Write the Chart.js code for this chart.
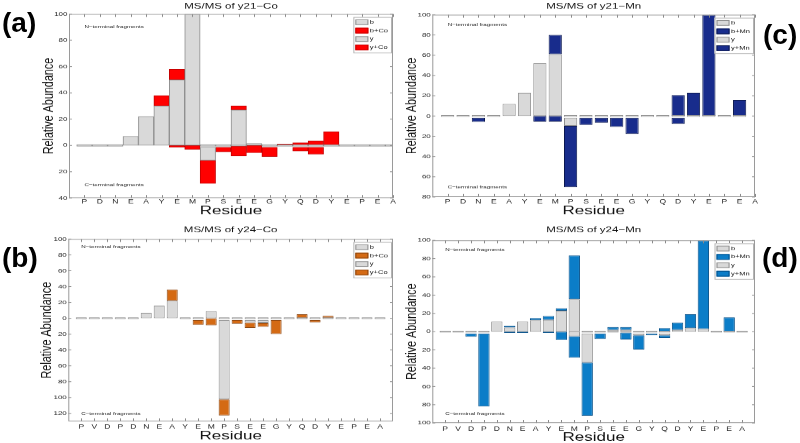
<!DOCTYPE html>
<html>
<head>
<meta charset="utf-8">
<script src="https://cdn.jsdelivr.net/npm/chart.js@4.4.0/dist/chart.umd.min.js"></script>
<style>
  body { margin: 0; background: #fff; }
  #wrap { position: relative; width: 800px; height: 443px; overflow: hidden; font-family: "Liberation Sans", Arial, sans-serif; }
  canvas { position: absolute; }
  .tag { position: absolute; font-weight: bold; font-size: 28px; line-height: 28px; color: #000; }
</style>
</head>
<body>
<div id="wrap">
  <canvas id="cA" width="400" height="306" style="left:0;top:0;width:400px;height:220px"></canvas>
  <canvas id="cC" width="400" height="306" style="left:400px;top:0;width:400px;height:220px"></canvas>
  <canvas id="cB" width="400" height="310" style="left:0;top:220px;width:400px;height:223px"></canvas>
  <canvas id="cD" width="400" height="310" style="left:400px;top:220px;width:400px;height:223px"></canvas>
  <div class="tag" style="left:2px;top:9px">(a)</div>
  <div class="tag" style="left:763px;top:21px">(c)</div>
  <div class="tag" style="left:2px;top:244px">(b)</div>
  <div class="tag" style="left:762px;top:244px">(d)</div>
</div>
<script>
const residues21 = ['P', 'D', 'N', 'E', 'A', 'Y', 'E', 'M', 'P', 'S', 'E', 'E', 'G', 'Y', 'Q', 'D', 'Y', 'E', 'P', 'E', 'A'];
const residues24 = ['P', 'V', 'D', 'P', 'D', 'N', 'E', 'A', 'Y', 'E', 'M', 'P', 'S', 'E', 'E', 'G', 'Y', 'Q', 'D', 'Y', 'E', 'P', 'E', 'A'];

// (a) MS/MS of y21-Co  (y values are abundances of C-terminal fragments, drawn downward)
const bCo21    = [0, 0, 0, 7, 22, 30, 50, 100, 0, 0, 27, 1.5, 0, 0, 0, 0, 0, 0, 0, 0, 0];
const bIonCo21 = [null, null, null, null, null, 8, 8, null, null, null, 3, null, null, 1, 2, 3.5, 10.5, null, null, null, null];
const yCo21    = [null, null, null, null, null, null, null, null, 10, null, 0.5, null, null, null, null, null, null, null, null, null, null];
const yIonCo21 = [null, null, null, null, null, null, 1.3, 3, 17.6, 3.5, 7.5, 5.6, 7, null, 3, 5.3, null, null, null, null, null];

// (c) MS/MS of y21-Mn
const bMn21    = [0, 0, 0, 0, 12, 23, 52, 61, 0, 0, 0, 0, 0, 0, 0, 0, 0, 0, 0, 0, null];
const bIonMn21 = [null, null, null, null, null, null, null, 19, null, null, null, null, null, null, null, 20.7, 23, 100, null, 15.8, null];
const yMn21    = [null, null, null, null, null, null, null, null, 8, null, null, null, null, null, null, null, null, null, null, null, null];
const yIonMn21 = [null, null, 4, null, null, null, 5.5, 5.5, 60.5, 7, 5, 9, 16, null, null, 6, null, null, null, null, null];

// (b) MS/MS of y24-Co
const bCo24    = [0, 0, 0, 0, 0, 7, 16, 22, 0, 0, 9, 0, 0, 0, 0, 0, 0, 0, 0, 0, 0, 0, 0, 0];
const bIonCo24 = [null, null, null, null, null, null, null, 14.5, null, null, null, null, null, null, null, null, null, 5, null, 3, null, null, null, null];
const yCo24    = [null, null, null, null, null, null, null, null, null, null, null, 100, null, 3, 3.5, null, null, null, null, null, null, null, null, null];
const yIonCo24 = [null, null, null, null, null, null, null, null, null, 6, 9, 20.5, 4.5, 7, 5, 17.5, null, null, 3, null, null, null, null, null];

// (d) MS/MS of y24-Mn
const bMn24    = [0, 0, 0, 0, 11, 4.5, 11, 12.5, 13, 23, 35.5, 0, 0, 2, 2, 0, 0, 0, 2, 4, 3, 0, 0, 0];
const bIonMn24 = [null, null, null, null, null, 2, null, 2.5, 4, 2.5, 48, null, null, 3, 3, null, null, 4, 8, 15, 97, null, 15.7, null];
const yMn24    = [null, null, null, null, null, null, null, null, null, null, 5, 32, null, 1, 1, 2, null, 2, null, null, null, null, null, null];
const yIonMn24 = [null, null, 3.5, 80, null, 1.5, 1.5, null, 1.5, 9, 23.5, 58, 6, null, 7.5, 15.5, 2, 3, null, null, null, null, null, null];

const rangeA = [-40, 100];
const rangeC = [-80, 100];
const rangeB = [-130, 100];
const rangeD = [-100, 100];

Chart.defaults.font.family = '"Liberation Sans", Arial, sans-serif';

const GRAY = '#d9d9d9';
const GRAY_EDGE = '#8e8e8e';
const FONT = '"Liberation Sans", Arial, sans-serif';

// box, inward ticks, fragment notes and legend, drawn in the plot area
const panelDeco = {
  id: 'panelDeco',
  afterDraw(chart, args, o) {
    const { ctx, chartArea: a, scales: { x, y } } = chart;
    const s = o.squash;
    ctx.save();
    ctx.strokeStyle = '#8a8a8a';
    ctx.lineWidth = 1;
    ctx.beginPath();
    x.ticks.forEach((t, i) => {
      if (!chart.data.labels[t.value]) return;
      const px = Math.round(x.getPixelForTick(i)) + 0.5;
      ctx.moveTo(px, a.bottom); ctx.lineTo(px, a.bottom - 3 / s);
      ctx.moveTo(px, a.top); ctx.lineTo(px, a.top + 3 / s);
    });
    y.ticks.forEach((t, i) => {
      const py = y.getPixelForTick(i);
      ctx.moveTo(a.left, py); ctx.lineTo(a.left + 3, py);
      ctx.moveTo(a.right, py); ctx.lineTo(a.right - 3, py);
    });
    ctx.stroke();
    ctx.strokeStyle = '#9a9a9a';
    ctx.strokeRect(a.left + 0.5, a.top + 0.5, a.right - a.left - 1, a.bottom - a.top - 1);

    ctx.fillStyle = '#222';
    ctx.font = '6.2px ' + FONT;
    ctx.textAlign = 'left';
    ctx.textBaseline = 'middle';
    const nx = x.getPixelForValue(1);
    ctx.fillText('N\u2212terminal fragments', nx, y.getPixelForValue(y.max - 10));
    ctx.fillText('C\u2212terminal fragments', nx, y.getPixelForValue(y.min + 10));

    const sets = chart.data.datasets;
    ctx.font = '7.5px ' + FONT;
    const tw = Math.max(...sets.map(d => ctx.measureText(d.label).width));
    const rowH = 8.4 / s, swW = 13, swH = 5.6 / s;
    const w = 2 + swW + 1.5 + tw + 3, h = rowH * sets.length + 2 / s;
    const bx = a.right - 2 - w, by = a.top + 3 / s;
    ctx.fillStyle = '#fff';
    ctx.fillRect(bx, by, w, h);
    ctx.strokeStyle = '#b4b4b4';
    ctx.strokeRect(bx + 0.5, by + 0.5, w, h);
    sets.forEach((d, i) => {
      const cy = by + 1 / s + rowH * (i + 0.5);
      ctx.fillStyle = d.backgroundColor;
      ctx.fillRect(bx + 2, cy - swH / 2, swW, swH);
      ctx.strokeStyle = d.borderColor;
      ctx.strokeRect(bx + 2.5, cy - swH / 2 + 0.5, swW - 1, swH - 1);
      ctx.fillStyle = '#111';
      ctx.fillText(d.label, bx + 2 + swW + 1.5, cy);
    });
    ctx.restore();
  }
};

function makePanel(id, p) {
  const canvas = document.getElementById(id);
  const H = canvas.height;
  const s = parseFloat(canvas.style.height) / H;   // the figure is squeezed vertically
  const g = p.geo;
  const trail = p.seq.length === 24;
  const labels = ['', ...p.seq];
  if (trail) labels.push('');
  const pad = arr => { const out = [null, ...arr]; if (trail) out.push(null); return out; };
  const down = arr => arr.map(v => v == null ? null : -v);

  new Chart(canvas, {
    type: 'bar',
    data: {
      labels,
      datasets: [
        { label: 'b', data: pad(p.b), backgroundColor: GRAY, borderColor: GRAY_EDGE, minBarLength: 2.5 },
        { label: 'b+' + p.ion, data: pad(p.bIon), backgroundColor: p.color, borderColor: p.edge },
        { label: 'y', data: down(pad(p.y)), backgroundColor: GRAY, borderColor: GRAY_EDGE },
        { label: 'y+' + p.ion, data: down(pad(p.yIon)), backgroundColor: p.color, borderColor: p.edge }
      ]
    },
    options: {
      responsive: false,
      animation: false,
      devicePixelRatio: 1,
      datasets: {
        bar: { borderWidth: 1, borderSkipped: false, categoryPercentage: 1, barPercentage: p.barPct }
      },
      layout: { padding: { left: 0, right: 400 - g.right, top: 0, bottom: 0 } },
      scales: {
        x: {
          stacked: true,
          offset: false,
          grid: { display: false, drawTicks: false },
          border: { display: false },
          ticks: { autoSkip: false, maxRotation: 0, padding: (g.tickY - g.bottom) / s - 5.1, font: { size: 8.5 }, color: '#222' },
          title: { display: true, text: 'Residue', font: { size: 17 }, color: '#111',
                   padding: { top: 0, bottom: H - g.xTitleY / s - 10.2 } },
          afterFit: sc => { sc.height = H - g.bottom / s; }
        },
        y: {
          stacked: true,
          min: p.range[0],
          max: p.range[1],
          grid: { display: false, drawTicks: false },
          border: { display: false },
          ticks: { stepSize: 20, includeBounds: false, padding: 1.5, font: { size: 8 }, color: '#222',
                   callback: v => Math.abs(v) },
          title: { display: true, text: 'Relative Abundance', font: { size: 15 }, color: '#111',
                   padding: { top: g.yTitleX - 9, bottom: 0 } },
          afterFit: sc => { sc.width = g.left; }
        }
      },
      plugins: {
        legend: { display: false },
        tooltip: { enabled: false },
        title: {
          display: true, fullSize: false, text: p.title, color: '#111',
          font: { size: 11.5, weight: 'normal' },
          padding: { top: g.titleY / s - 6.9, bottom: (g.top - g.titleY) / s - 6.9 }
        },
        panelDeco: { squash: s }
      }
    },
    plugins: [panelDeco]
  });
}

makePanel('cA', {
  title: 'MS/MS of y21\u2212Co', seq: residues21, ion: 'Co', range: rangeA,
  b: bCo21, bIon: bIonCo21, y: yCo21, yIon: yIonCo21,
  color: '#ff0000', edge: '#c40000', barPct: 1,
  geo: { left: 69, right: 393, top: 14, bottom: 198, titleY: 6, tickY: 201.7, xTitleY: 211, yTitleX: 49 }
});
makePanel('cC', {
  title: 'MS/MS of y21\u2212Mn', seq: residues21, ion: 'Mn', range: rangeC,
  b: bMn21, bIon: bIonMn21, y: yMn21, yIon: yIonMn21,
  color: '#182c8c', edge: '#0b1850', barPct: 0.86,
  geo: { left: 32.3, right: 355, top: 14.7, bottom: 197, titleY: 6, tickY: 201.7, xTitleY: 211, yTitleX: 11.5 }
});
makePanel('cB', {
  title: 'MS/MS of y24\u2212Co', seq: residues24, ion: 'Co', range: rangeB,
  b: bCo24, bIon: bIonCo24, y: yCo24, yIon: yIonCo24,
  color: '#d46a14', edge: '#8a4510', barPct: 0.85,
  geo: { left: 68.3, right: 393, top: 19, bottom: 201.3, titleY: 10, tickY: 207, xTitleY: 216, yTitleX: 46.5 }
});
makePanel('cD', {
  title: 'MS/MS of y24\u2212Mn', seq: residues24, ion: 'Mn', range: rangeD,
  b: bMn24, bIon: bIonMn24, y: yMn24, yIon: yIonMn24,
  color: '#0b7dc8', edge: '#05508a', barPct: 0.88,
  geo: { left: 32.3, right: 355, top: 20.3, bottom: 203, titleY: 10, tickY: 209, xTitleY: 217.5, yTitleX: 12 }
});
</script>
</body>
</html>
